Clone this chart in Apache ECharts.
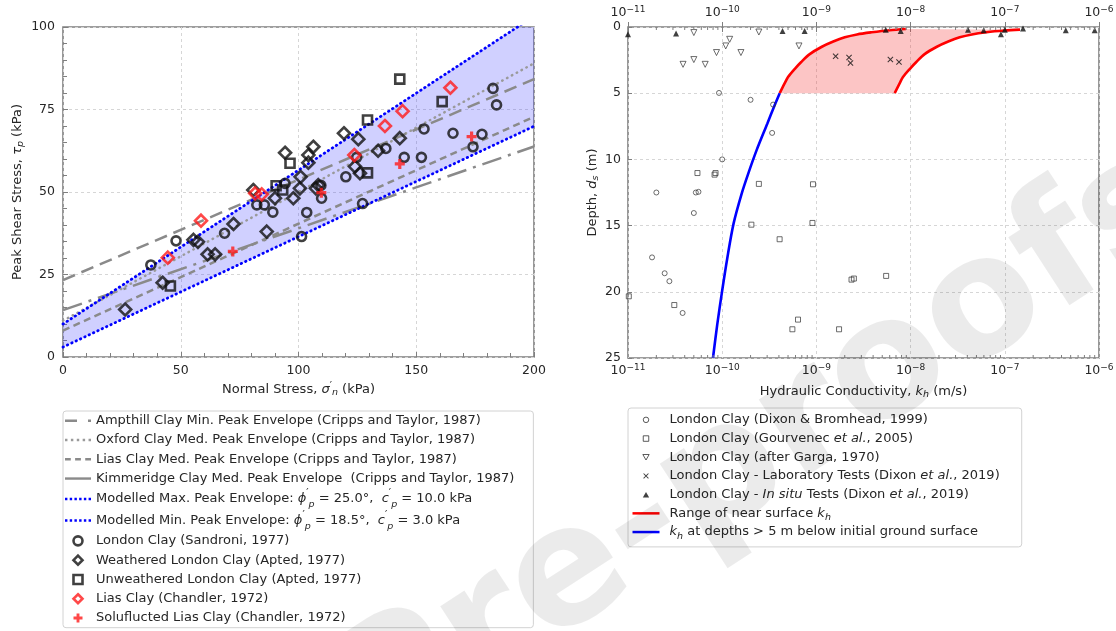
<!DOCTYPE html>
<html>
<head>
<meta charset="utf-8">
<script src="https://cdn.jsdelivr.net/npm/echarts@6.0.0/dist/echarts.min.js"></script>
<style>
  html, body { margin: 0; padding: 0; background: #fff; }
  #chart { width: 1116px; height: 631px; }
</style>
</head>
<body>
<div id="chart"></div>
<script>
// ---------- Peak shear strength panel: [normal stress (kPa), peak shear stress (kPa)] ----------
const londonClaySandroni = [[37.3,27.9],[48.0,35.2],[68.6,37.5],[82.3,46.1],[85.5,46.1],[89.1,43.9],[101.3,36.5],[103.5,43.8],[94.3,52.6],[109.8,48.1],[109.5,52.0],[120.1,54.6],[127.2,46.5],[137.1,63.2],[144.9,60.5],[152.2,60.5],[153.3,69.1],[165.6,67.8],[177.9,67.5],[174.1,63.7],[182.6,81.4],[184.1,76.4],[124.7,60.5]];
const weatheredLondonClay = [[26.4,14.4],[42.3,22.5],[55.4,35.5],[57.3,34.9],[61.4,31.1],[64.6,31.1],[72.4,40.3],[86.5,38.0],[80.8,50.6],[90.0,48.1],[94.3,61.9],[97.8,48.1],[100.6,51.1],[100.9,54.6],[104.2,61.2],[106.3,63.7],[104.2,58.9],[107.4,51.1],[108.4,52.1],[119.3,67.8],[124.0,57.7],[125.4,66.0],[126.1,55.7],[133.8,62.5],[143.0,66.3]];
const unweatheredLondonClay = [[45.6,21.5],[90.5,51.9],[93.3,50.6],[96.4,58.7],[129.3,71.8],[129.3,55.8],[143.0,84.2],[161.0,77.4]];
const liasClayChandler = [[44.5,30.1],[58.6,41.3],[81.6,49.6],[84.4,49.3],[123.7,61.2],[136.7,70.0],[144.2,74.5],[164.5,81.6]];
const solifluctedLiasClay = [[72.1,32.0],[109.7,49.8],[143.0,58.5],[173.5,66.8]];

// Published envelopes (end points, kPa)
const ampthillMinEnvelope = [[0,14.2],[200,63.8]];
const oxfordMedEnvelope = [[0,11.0],[200,89.0]];
const liasMedEnvelope = [[0,8.0],[200,72.8]];
const kimmeridgeMedEnvelope = [[0,23.3],[200,84.2]];

// Modelled envelopes: friction angle (deg) and cohesion (kPa)
const modelledMax = [25.0, 10.0];
const modelledMin = [18.5, 3.0];

const stressTicks = [0, 50, 100, 150, 200];
const shearTicks = [0, 25, 50, 75, 100];

// ---------- Hydraulic conductivity panel: [k_h (m/s), depth (m)] ----------
const dixonBromhead1999 = [[9.25e-11,4.98],[2.0e-10,5.5],[3.47e-10,5.86],[3.39e-10,8.0],[1.0e-10,10.0],[2.0e-11,12.5],[5.25e-11,12.5],[5.6e-11,12.45],[5.0e-11,14.05],[1.8e-11,17.4],[2.45e-11,18.6],[2.75e-11,19.2],[3.8e-11,21.6]];
const gourvenec2005 = [[5.46e-11,11.03],[8.5e-11,11.03],[8.3e-11,11.15],[2.45e-10,11.85],[9.2e-10,11.88],[2.04e-10,14.93],[9.08e-10,14.8],[4.07e-10,16.03],[1.02e-11,20.34],[3.1e-11,21.0],[6.38e-10,22.1],[5.56e-10,22.83],[1.74e-9,22.83],[2.36e-9,19.08],[2.5e-9,19.0],[5.5e-9,18.8]];
const garga1970 = [[5.0e-11,0.42],[3.84e-11,2.82],[5.0e-11,2.46],[6.6e-11,2.82],[8.7e-11,1.93],[1.09e-10,1.43],[1.2e-10,0.93],[1.58e-10,1.93],[2.45e-10,0.38],[6.53e-10,1.43]];
const dixonLabTests = [[1.6e-9,2.21],[2.22e-9,2.31],[2.3e-9,2.72],[6.1e-9,2.46],[7.53e-9,2.64]];
const dixonInSituTests = [[1.0e-11,0.55],[3.24e-11,0.5],[4.37e-10,0.3],[7.5e-10,0.3],[5.45e-9,0.2],[7.85e-9,0.3],[4.07e-8,0.2],[5.97e-8,0.25],[9.1e-8,0.55],[1.0e-7,0.2],[1.56e-7,0.12],[4.44e-7,0.25],[9.0e-7,0.25]];

// Near-surface k_h range: lower and upper bounding curves
const nearSurfaceLower = [[4.08e-10,5.0],[4.57e-10,4.3],[5.0e-10,3.78],[6.0e-10,3.1],[6.9e-10,2.64],[8.5e-10,2.05],[1.13e-9,1.51],[1.51e-9,1.1],[2.0e-9,0.78],[2.7e-9,0.56],[3.85e-9,0.4],[6.0e-9,0.24],[8.9e-9,0.15]];
const nearSurfaceUpper = [[6.78e-9,5.0],[7.6e-9,4.3],[8.3e-9,3.78],[1.0e-8,3.1],[1.15e-8,2.64],[1.41e-8,2.05],[1.88e-8,1.51],[2.51e-8,1.1],[3.32e-8,0.78],[4.47e-8,0.56],[6.38e-8,0.4],[1.0e-7,0.27],[1.45e-7,0.2]];
// k_h below 5 m
const deepProfile = [[4.08e-10,5.0],[3.56e-10,6.0],[3.01e-10,7.3],[2.32e-10,9.3],[1.89e-10,11.07],[1.61e-10,12.58],[1.32e-10,14.85],[1.13e-10,17.5],[1.0e-10,19.9],[8.85e-11,22.5],[7.98e-11,25.0]];

const conductivityRange = [1e-11, 1e-6];
const depthTicks = [0, 5, 10, 15, 20, 25];

// ---------- styling helpers ----------
const F = 'DejaVu Sans';
const TXT = '#262626';
const FRAME = '#7f7f7f';
const GRAY = '#8a8a8a';
const BLACK = '#101010';
const RED = '#ff1a1a';

const tan = d => Math.tan(d * Math.PI / 180);
const envelopeLine = ([phi, c]) => [[0, c], [200, c + 200 * tan(phi)]];

const NAME = {
  ampthill: 'Ampthill Clay Min. Peak Envelope (Cripps and Taylor, 1987)',
  oxford: 'Oxford Clay Med. Peak Envelope (Cripps and Taylor, 1987)',
  lias: 'Lias Clay Med. Peak Envelope (Cripps and Taylor, 1987)',
  kimmeridge: 'Kimmeridge Clay Med. Peak Envelope  (Cripps and Taylor, 1987)',
  modMax: 'Modelled Max. Peak Envelope',
  modMin: 'Modelled Min. Peak Envelope',
  sandroni: 'London Clay (Sandroni, 1977)',
  weathered: 'Weathered London Clay (Apted, 1977)',
  unweathered: 'Unweathered London Clay (Apted, 1977)',
  liasChandler: 'Lias Clay (Chandler, 1972)',
  soliflucted: 'Soluflucted Lias Clay (Chandler, 1972)',
  dixonBromhead: 'London Clay (Dixon & Bromhead, 1999)',
  gourvenec: 'London Clay (Gourvenec et al., 2005)',
  garga: 'London Clay (after Garga, 1970)',
  lab: 'London Clay - Laboratory Tests (Dixon et al., 2019)',
  inSitu: 'London Clay - In situ Tests (Dixon et al., 2019)',
  nearSurface: 'Range of near surface kh',
  deep: 'kh at depths > 5 m below initial ground surface'
};

const envLabel = (kind, [phi, c]) =>
  `Modelled ${kind}. Peak Envelope: {mi|ϕ}{ms|′}{mb|p} = ${phi.toFixed(1)}°,  {mi|c}{ms|′}{mb|p} = ${c.toFixed(1)} kPa`;

const RICH_NAMES = {
  [NAME.modMax]: envLabel('Max', modelledMax),
  [NAME.modMin]: envLabel('Min', modelledMin),
  [NAME.gourvenec]: 'London Clay (Gourvenec {i|et al.}, 2005)',
  [NAME.lab]: 'London Clay - Laboratory Tests (Dixon {i|et al.}, 2019)',
  [NAME.inSitu]: 'London Clay - {i|In situ} Tests (Dixon {i|et al.}, 2019)',
  [NAME.nearSurface]: 'Range of near surface {i|k}{b|h}',
  [NAME.deep]: '{i|k}{b|h} at depths > 5 m below initial ground surface'
};

// legend icons (paths keep their aspect ratio inside the legend item box)
const bar = (x0, x1) => `M${x0},0H${x1}V2.5H${x0}Z`;
const ICON = {
  ampthill: 'path://' + bar(0, 12) + bar(23, 26),
  oxford: 'path://' + [0, 6, 12, 18, 24].map(x => bar(x, x + 2.5)).join(''),
  lias: 'path://' + bar(0, 6) + bar(10.5, 16.5) + bar(21, 27),
  solid: 'path://' + bar(0, 27),
  blueDots: 'path://' + [0, 4.9, 9.8, 14.7, 19.6, 24.5].map(x => bar(x, x + 2.5)).join(''),
  diamond: 'path://M5,0L10,5L5,10L0,5Z',
  square: 'path://M0,0H10V10H0Z',
  triDown: 'path://M0,0H10L5,8.7Z',
  triUp: 'path://M5,0L10,8.7H0Z'
};
const PLUS = 'path://M3.4,0H6.6V3.4H10V6.6H6.6V10H3.4V6.6H0V3.4H3.4Z';
const CROSS = 'path://M1.2,0L5,3.8L8.8,0L10,1.2L6.2,5L10,8.8L8.8,10L5,6.2L1.2,10L0,8.8L3.8,5L0,1.2Z';

const tickLabel = { fontFamily: F, fontSize: 12.5, color: TXT };
const axisNameStyle = {
  fontFamily: F, fontSize: 13, color: TXT, lineHeight: 16,
  rich: {
    i: { fontFamily: F, fontSize: 13, fontStyle: 'italic', color: TXT },
    s: { fontFamily: F, fontSize: 10, verticalAlign: 'top', lineHeight: 8, color: TXT },
    b: { fontFamily: F, fontSize: 9.5, fontStyle: 'italic', verticalAlign: 'bottom', lineHeight: 9, color: TXT }
  }
};
const powerLabel = {
  fontFamily: F, fontSize: 12.5, color: TXT, lineHeight: 16,
  formatter: v => `10{e|−${Math.round(-Math.log10(v))}}`,
  rich: { e: { fontFamily: F, fontSize: 9, verticalAlign: 'top', lineHeight: 8, color: TXT } }
};
const gridLine = { show: true, lineStyle: { color: '#d6d6d6', width: 1, type: [3, 3] } };

// minor tick positions on the logarithmic axes (2..9 per decade)
const logMinorTicks = [];
for (let e = -11; e < -6; e++) for (let m = 2; m <= 9; m++) logMinorTicks.push([m * Math.pow(10, e), 0]);

const hollow = (color, w) => ({ color: 'rgba(0,0,0,0)', borderColor: color, borderWidth: w });

const chart = echarts.init(document.getElementById('chart'), null, { renderer: 'canvas', width: 1116, height: 631 });

const option = {
  animation: false,
  backgroundColor: '#ffffff',
  grid: [
    { left: 63, top: 27, width: 471, height: 330, show: true, borderColor: FRAME, borderWidth: 1.6, backgroundColor: 'transparent', containLabel: false, outerBoundsMode: 'none' },
    { left: 628, top: 27, width: 471, height: 331, show: true, borderColor: FRAME, borderWidth: 1.6, backgroundColor: 'transparent', containLabel: false, outerBoundsMode: 'none' }
  ],
  xAxis: [
    {
      gridIndex: 0, type: 'value', min: stressTicks[0], max: stressTicks[stressTicks.length - 1], interval: stressTicks[1] - stressTicks[0],
      name: 'Normal Stress, {i|σ}{s|′}{b|n} (kPa)', nameLocation: 'middle', nameGap: 23, nameTextStyle: axisNameStyle,
      axisLine: { show: false },
      axisTick: { show: true, inside: true, length: 5, lineStyle: { color: FRAME } },
      minorTick: { show: true, splitNumber: 5, length: 4, lineStyle: { color: FRAME } },
      splitLine: gridLine, minorSplitLine: { show: false },
      axisLabel: Object.assign({ margin: 7 }, tickLabel)
    },
    {
      gridIndex: 1, type: 'log', logBase: 10, min: conductivityRange[0], max: conductivityRange[1], position: 'bottom',
      name: 'Hydraulic Conductivity, {i|k}{b|h} (m/s)', nameLocation: 'middle', nameGap: 23, nameTextStyle: axisNameStyle,
      axisLine: { show: false },
      axisTick: { show: true, inside: true, length: 5, lineStyle: { color: FRAME } },
      splitLine: gridLine,
      axisLabel: Object.assign({ margin: 5 }, powerLabel)
    },
    {
      gridIndex: 1, type: 'log', logBase: 10, min: conductivityRange[0], max: conductivityRange[1], position: 'top',
      axisLine: { show: false },
      axisTick: { show: true, inside: true, length: 5, lineStyle: { color: FRAME } },
      splitLine: { show: false },
      axisLabel: Object.assign({ margin: 6 }, powerLabel)
    }
  ],
  yAxis: [
    {
      gridIndex: 0, type: 'value', min: shearTicks[0], max: shearTicks[shearTicks.length - 1], interval: shearTicks[1] - shearTicks[0],
      name: 'Peak Shear Stress, {i|τ}{b|p} (kPa)', nameLocation: 'middle', nameRotate: 90, nameGap: 37, nameTextStyle: axisNameStyle,
      axisLine: { show: false },
      axisTick: { show: true, inside: true, length: 5, lineStyle: { color: FRAME } },
      minorTick: { show: true, splitNumber: 5, length: 4, lineStyle: { color: FRAME } },
      splitLine: gridLine, minorSplitLine: { show: false },
      axisLabel: Object.assign({ margin: 8 }, tickLabel)
    },
    {
      gridIndex: 1, type: 'value', inverse: true, min: depthTicks[0], max: depthTicks[depthTicks.length - 1], interval: depthTicks[1] - depthTicks[0],
      name: 'Depth, {i|d}{b|s} (m)', nameLocation: 'middle', nameRotate: 90, nameGap: 27, nameTextStyle: axisNameStyle,
      axisLine: { show: false },
      axisTick: { show: true, inside: true, length: 4, lineStyle: { color: FRAME } },
      splitLine: gridLine,
      axisLabel: Object.assign({ margin: 7 }, tickLabel)
    }
  ],
  legend: [
    {
      orient: 'vertical', left: 63, top: 411, height: 300, itemWidth: 26, itemHeight: 9, itemGap: 0,
      padding: [0, 19, 0, 2], borderColor: '#d2d2d2', borderWidth: 1, borderRadius: 3, backgroundColor: '#fff',
      selectedMode: false,
      formatter: n => RICH_NAMES[n] || n,
      textStyle: {
        fontFamily: F, fontSize: 13, color: TXT, lineHeight: 19.3,
        rich: {
          mi: { fontFamily: F, fontSize: 13, fontStyle: 'italic', lineHeight: 21.5, color: TXT },
          ms: { fontFamily: F, fontSize: 10.5, verticalAlign: 'top', lineHeight: 12, color: TXT },
          mb: { fontFamily: F, fontSize: 9.5, fontStyle: 'italic', verticalAlign: 'bottom', lineHeight: 16, color: TXT }
        }
      },
      data: [
        { name: NAME.ampthill, icon: ICON.ampthill, itemStyle: { borderWidth: 0 } },
        { name: NAME.oxford, icon: ICON.oxford, itemStyle: { borderWidth: 0 } },
        { name: NAME.lias, icon: ICON.lias, itemStyle: { borderWidth: 0 } },
        { name: NAME.kimmeridge, icon: ICON.solid, itemStyle: { borderWidth: 0 } },
        { name: NAME.modMax, icon: ICON.blueDots, itemStyle: { borderWidth: 0 } },
        { name: NAME.modMin, icon: ICON.blueDots, itemStyle: { borderWidth: 0 } },
        { name: NAME.sandroni, itemStyle: { borderWidth: 2.6 } },
        { name: NAME.weathered, icon: ICON.diamond, itemStyle: { borderWidth: 2.6 } },
        { name: NAME.unweathered, icon: ICON.square, itemStyle: { borderWidth: 2.6 } },
        { name: NAME.liasChandler, icon: ICON.diamond, itemStyle: { borderWidth: 2.6 } },
        { name: NAME.soliflucted, icon: PLUS, itemStyle: { borderWidth: 0 } }
      ]
    },
    {
      orient: 'vertical', left: 628, top: 408, height: 200, itemWidth: 27, itemHeight: 5.5, itemGap: 0,
      padding: [2.5, 22, 5.5, 4.5], borderColor: '#d2d2d2', borderWidth: 1, borderRadius: 3, backgroundColor: '#fff',
      selectedMode: false,
      formatter: n => RICH_NAMES[n] || n,
      textStyle: {
        fontFamily: F, fontSize: 13, color: TXT, lineHeight: 18.7, padding: [0, 0, 0, 5],
        rich: {
          i: { fontFamily: F, fontSize: 13, fontStyle: 'italic', color: TXT },
          b: { fontFamily: F, fontSize: 9.5, fontStyle: 'italic', verticalAlign: 'bottom', lineHeight: 12, color: TXT }
        }
      },
      data: [
        { name: NAME.dixonBromhead, itemStyle: { borderWidth: 1 } },
        { name: NAME.gourvenec, icon: ICON.square, itemStyle: { borderWidth: 1 } },
        { name: NAME.garga, icon: ICON.triDown, itemStyle: { borderWidth: 1 } },
        { name: NAME.lab, icon: CROSS, itemStyle: { borderWidth: 0 } },
        { name: NAME.inSitu, icon: ICON.triUp, itemStyle: { borderWidth: 0 } },
        { name: NAME.nearSurface, icon: ICON.solid, itemStyle: { borderWidth: 0 } },
        { name: NAME.deep, icon: ICON.solid, itemStyle: { borderWidth: 0 } }
      ]
    }
  ],
  graphic: [
    {
      type: 'text', x: 463, y: 648, rotation: 33 * Math.PI / 180, silent: true, z: 100,
      style: { text: 'Journal Pre-proofs', font: 'bold 165px "DejaVu Sans"', fill: 'rgba(0,0,0,0.08)', align: 'center', verticalAlign: 'middle' }
    }
  ],
  series: [
    // ---- left panel ----
    {
      type: 'custom', xAxisIndex: 0, yAxisIndex: 0, silent: true, z: 1, data: [[0, 0]],
      renderItem: (params, api) => {
        const top = shearTicks[shearTicks.length - 1];
        const [lo0, lo1] = envelopeLine(modelledMin);
        const [hi0, hi1] = envelopeLine(modelledMax);
        const pts = [lo0, lo1];
        if (hi1[1] > top) {
          const xCross = (top - modelledMax[1]) / tan(modelledMax[0]);
          pts.push([200, top], [xCross, top]);
        } else {
          pts.push(hi1);
        }
        pts.push(hi0);
        return { type: 'polygon', shape: { points: pts.map(p => api.coord(p)) }, style: { fill: 'rgba(40,40,255,0.22)' } };
      }
    },
    { name: NAME.ampthill, type: 'line', xAxisIndex: 0, yAxisIndex: 0, data: ampthillMinEnvelope, showSymbol: false, symbol: 'none', z: 3, color: GRAY, itemStyle: { color: GRAY }, lineStyle: { color: GRAY, width: 2.5, type: [20, 7, 3, 7] } },
    { name: NAME.oxford, type: 'line', xAxisIndex: 0, yAxisIndex: 0, data: oxfordMedEnvelope, showSymbol: false, symbol: 'none', z: 3, color: '#9a9a9a', itemStyle: { color: '#9a9a9a' }, lineStyle: { color: '#9a9a9a', width: 2.5, type: [0.5, 5], cap: 'round' } },
    { name: NAME.lias, type: 'line', xAxisIndex: 0, yAxisIndex: 0, data: liasMedEnvelope, showSymbol: false, symbol: 'none', z: 3, color: GRAY, itemStyle: { color: GRAY }, lineStyle: { color: GRAY, width: 2.5, type: [7, 4.5] } },
    { name: NAME.kimmeridge, type: 'line', xAxisIndex: 0, yAxisIndex: 0, data: kimmeridgeMedEnvelope, showSymbol: false, symbol: 'none', z: 3, color: GRAY, itemStyle: { color: GRAY }, lineStyle: { color: GRAY, width: 2.5, type: [13, 7] } },
    { name: NAME.modMax, type: 'line', xAxisIndex: 0, yAxisIndex: 0, data: envelopeLine(modelledMax), showSymbol: false, symbol: 'none', z: 4, color: '#0000ff', itemStyle: { color: '#0000ff' }, lineStyle: { color: '#0000ff', width: 2.8, type: [0.5, 4.3], cap: 'round' } },
    { name: NAME.modMin, type: 'line', xAxisIndex: 0, yAxisIndex: 0, data: envelopeLine(modelledMin), showSymbol: false, symbol: 'none', z: 4, color: '#0000ff', itemStyle: { color: '#0000ff' }, lineStyle: { color: '#0000ff', width: 2.8, type: [0.5, 4.3], cap: 'round' } },
    { name: NAME.sandroni, type: 'scatter', xAxisIndex: 0, yAxisIndex: 0, data: londonClaySandroni, symbol: 'circle', symbolSize: 9, z: 5, color: BLACK, itemStyle: hollow(BLACK, 2.6) },
    { name: NAME.weathered, type: 'scatter', xAxisIndex: 0, yAxisIndex: 0, data: weatheredLondonClay, symbol: 'diamond', symbolSize: 12, z: 5, color: BLACK, itemStyle: hollow(BLACK, 2.6) },
    { name: NAME.unweathered, type: 'scatter', xAxisIndex: 0, yAxisIndex: 0, data: unweatheredLondonClay, symbol: 'rect', symbolSize: 9, z: 5, color: BLACK, itemStyle: hollow(BLACK, 2.6) },
    { name: NAME.liasChandler, type: 'scatter', xAxisIndex: 0, yAxisIndex: 0, data: liasClayChandler, symbol: 'diamond', symbolSize: 12, z: 6, color: RED, itemStyle: hollow(RED, 2.6) },
    { name: NAME.soliflucted, type: 'scatter', xAxisIndex: 0, yAxisIndex: 0, data: solifluctedLiasClay, symbol: PLUS, symbolSize: 10, z: 6, color: RED, itemStyle: { color: RED } },

    // ---- right panel ----
    {
      type: 'custom', xAxisIndex: 1, yAxisIndex: 1, silent: true, z: 1, data: [[1e-9, 1]],
      renderItem: (params, api) => {
        const ring = nearSurfaceLower.concat(nearSurfaceUpper.slice().reverse());
        return { type: 'polygon', shape: { points: ring.map(p => api.coord(p)) }, style: { fill: 'rgba(245,40,40,0.27)' } };
      }
    },
    {
      type: 'custom', xAxisIndex: 1, yAxisIndex: 1, silent: true, z: 6, data: logMinorTicks,
      renderItem: (params, api) => {
        const k = api.value(0);
        const b = api.coord([k, depthTicks[depthTicks.length - 1]]);
        const t = api.coord([k, depthTicks[0]]);
        return {
          type: 'group', children: [
            { type: 'line', shape: { x1: b[0], y1: b[1], x2: b[0], y2: b[1] - 3 }, style: { stroke: FRAME, lineWidth: 1 } },
            { type: 'line', shape: { x1: t[0], y1: t[1], x2: t[0], y2: t[1] + 3 }, style: { stroke: FRAME, lineWidth: 1 } }
          ]
        };
      }
    },
    { name: NAME.nearSurface, type: 'line', xAxisIndex: 1, yAxisIndex: 1, data: nearSurfaceLower, smooth: 0.3, showSymbol: false, symbol: 'none', z: 3, color: '#ff0000', itemStyle: { color: '#ff0000' }, lineStyle: { color: '#ff0000', width: 2.6 } },
    { name: NAME.nearSurface, type: 'line', xAxisIndex: 1, yAxisIndex: 1, data: nearSurfaceUpper, smooth: 0.3, showSymbol: false, symbol: 'none', z: 3, color: '#ff0000', itemStyle: { color: '#ff0000' }, lineStyle: { color: '#ff0000', width: 2.6 } },
    { name: NAME.deep, type: 'line', xAxisIndex: 1, yAxisIndex: 1, data: deepProfile, smooth: 0.3, showSymbol: false, symbol: 'none', z: 3, color: '#0000ff', itemStyle: { color: '#0000ff' }, lineStyle: { color: '#0000ff', width: 2.6 } },
    { name: NAME.dixonBromhead, type: 'scatter', xAxisIndex: 1, yAxisIndex: 1, data: dixonBromhead1999, symbol: 'circle', symbolSize: 5, z: 5, color: BLACK, itemStyle: hollow('#333', 0.9) },
    { name: NAME.gourvenec, type: 'scatter', xAxisIndex: 1, yAxisIndex: 1, data: gourvenec2005, symbol: 'rect', symbolSize: 5, z: 5, color: BLACK, itemStyle: hollow('#333', 0.9) },
    { name: NAME.garga, type: 'scatter', xAxisIndex: 1, yAxisIndex: 1, data: garga1970, symbol: 'triangle', symbolRotate: 180, symbolSize: 6, z: 5, color: BLACK, itemStyle: hollow('#333', 0.9) },
    { name: NAME.lab, type: 'scatter', xAxisIndex: 1, yAxisIndex: 1, data: dixonLabTests, symbol: CROSS, symbolSize: 6, z: 5, color: BLACK, itemStyle: { color: BLACK } },
    { name: NAME.inSitu, type: 'scatter', xAxisIndex: 1, yAxisIndex: 1, data: dixonInSituTests, symbol: 'triangle', symbolSize: 6, z: 5, color: BLACK, itemStyle: { color: BLACK } }
  ]
};

chart.setOption(option);
</script>
</body>
</html>
